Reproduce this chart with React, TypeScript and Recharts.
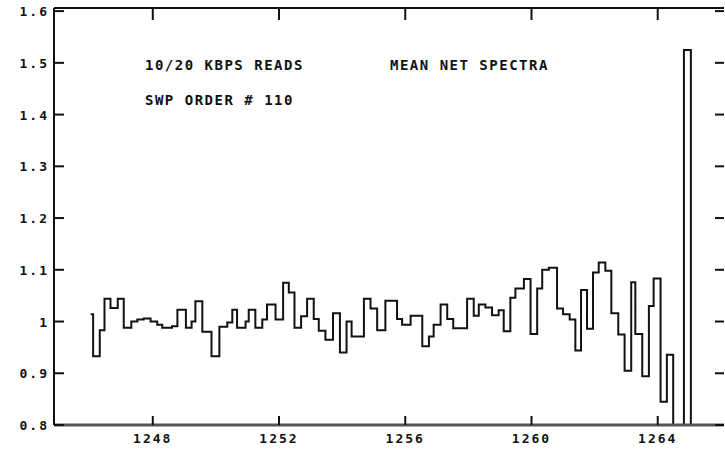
import React from 'react'
import { LineChart, Line, XAxis, YAxis } from 'recharts'

// left edge of each wavelength bin (the last entry only closes the final bin)
const binStart = [
  1246.03, 1246.11, 1246.32, 1246.47, 1246.66, 1246.89, 1247.08, 1247.32, 1247.51, 1247.71,
  1247.93, 1248.14, 1248.30, 1248.61, 1248.78, 1249.05, 1249.23, 1249.35, 1249.57, 1249.86,
  1250.11, 1250.36, 1250.52, 1250.67, 1250.94, 1251.04, 1251.25, 1251.47, 1251.62, 1251.89,
  1252.13, 1252.31, 1252.49, 1252.70, 1252.89, 1253.10, 1253.26, 1253.47, 1253.71, 1253.93,
  1254.14, 1254.30, 1254.69, 1254.90, 1255.11, 1255.37, 1255.74, 1255.90, 1256.17, 1256.54,
  1256.75, 1256.90, 1257.12, 1257.33, 1257.52, 1257.96, 1258.17, 1258.33, 1258.54, 1258.75,
  1258.96, 1259.12, 1259.33, 1259.49, 1259.76, 1259.97, 1260.18, 1260.34, 1260.55, 1260.81,
  1261.00, 1261.21, 1261.39, 1261.57, 1261.76, 1261.95, 1262.13, 1262.34, 1262.53, 1262.75,
  1262.95, 1263.16, 1263.29, 1263.51, 1263.72, 1263.87, 1264.09, 1264.29, 1264.49, 1264.83,
  1265.05,
]

const netFlux = [
  1.014, 0.933, 0.983, 1.044, 1.026, 1.044, 0.988, 1.0, 1.004, 1.006,
  1.0, 0.994, 0.988, 0.991, 1.023, 0.988, 1.0, 1.039, 0.98, 0.933,
  0.99, 0.998, 1.023, 0.988, 1.0, 1.023, 0.988, 1.004, 1.033, 1.004,
  1.075, 1.056, 0.988, 1.01, 1.044, 1.005, 0.982, 0.965, 1.016, 0.94,
  1.0, 0.971, 1.044, 1.025, 0.983, 1.04, 1.005, 0.994, 1.011, 0.952,
  0.971, 0.994, 1.033, 1.005, 0.987, 1.044, 1.011, 1.033, 1.027, 1.012,
  1.022, 0.981, 1.046, 1.064, 1.082, 0.976, 1.064, 1.1, 1.104, 1.025,
  1.014, 1.004, 0.944, 1.061, 0.986, 1.095, 1.114, 1.098, 1.016, 0.975,
  0.905, 1.076, 0.976, 0.894, 1.03, 1.083, 0.845, 0.936, 0.75, 1.525,
  0.75,
]

const xTicks = [1248, 1252, 1256, 1260, 1264]
const yTicks = [0.8, 0.9, 1, 1.1, 1.2, 1.3, 1.4, 1.5, 1.6]
const yTickLabels = ['0.8', '0.9', '1', '1.1', '1.2', '1.3', '1.4', '1.5', '1.6']
const noteLeft = ['10/20 KBPS READS', 'SWP ORDER # 110']
const noteRight = 'MEAN NET SPECTRA'

const data = binStart.map((x, i) => ({ x, v: netFlux[i] }))

const ink = '#111'
const mono = {
  fontFamily: "'DejaVu Sans Mono', 'Liberation Mono', monospace",
  fontWeight: 700,
  fontSize: 13,
  letterSpacing: 2,
}

function labelFor(v: number) {
  const i = yTicks.findIndex(t => Math.abs(t - v) < 1e-6)
  return i < 0 ? '' : yTickLabels[i]
}

function BottomTick({ x, y, payload }: any) {
  return (
    <g>
      <line x1={x} x2={x} y1={y} y2={y - 9} stroke={ink} strokeWidth={2} />
      <text x={x} y={y + 18} textAnchor="middle" fill={ink} style={mono}>{payload.value}</text>
    </g>
  )
}

function TopTick({ x, y }: any) {
  return <line x1={x} x2={x} y1={y} y2={y + 12} stroke={ink} strokeWidth={2} />
}

function LeftTick({ x, y, payload }: any) {
  return (
    <g>
      <line x1={x} x2={x + 10} y1={y} y2={y} stroke={ink} strokeWidth={2} />
      <text x={x - 5} y={y + 5} textAnchor="end" fill={ink} style={mono}>{labelFor(payload.value)}</text>
    </g>
  )
}

function RightTick({ x, y }: any) {
  return <line x1={x} x2={x - 9} y1={y} y2={y} stroke={ink} strokeWidth={2} />
}

const noteStyle: React.CSSProperties = {
  position: 'absolute',
  fontFamily: "'DejaVu Sans Mono', 'Liberation Mono', monospace",
  fontWeight: 700,
  fontSize: 14,
  letterSpacing: 1.5,
  lineHeight: '16px',
  color: ink,
  whiteSpace: 'pre',
}

export default function App() {
  const xDomain = [1244.87, 1266.1]
  const yDomain = [0.8, 1.606]
  return (
    <div style={{ position: 'absolute', left: 0, top: 0, width: 725, height: 452, background: '#fff' }}>
      <LineChart width={725} height={452} data={data} margin={{ top: 7, right: 0, bottom: 0, left: 0 }}>
        <XAxis
          xAxisId="bottom"
          dataKey="x"
          type="number"
          domain={xDomain}
          allowDataOverflow
          ticks={xTicks}
          height={27}
          tickSize={0}
          tickMargin={0}
          tickLine={false}
          axisLine={{ stroke: '#555', strokeWidth: 3 }}
          tick={<BottomTick />}
        />
        <XAxis
          xAxisId="top"
          orientation="top"
          dataKey="x"
          type="number"
          domain={xDomain}
          allowDataOverflow
          ticks={xTicks}
          height={1}
          tickSize={0}
          tickMargin={0}
          tickLine={false}
          axisLine={{ stroke: ink, strokeWidth: 2 }}
          tick={<TopTick />}
        />
        <YAxis
          yAxisId="left"
          type="number"
          domain={yDomain}
          allowDataOverflow
          ticks={yTicks}
          width={54}
          tickSize={0}
          tickMargin={0}
          tickLine={false}
          axisLine={{ stroke: ink, strokeWidth: 2 }}
          tick={<LeftTick />}
        />
        <YAxis
          yAxisId="right"
          orientation="right"
          type="number"
          domain={yDomain}
          allowDataOverflow
          ticks={yTicks}
          width={1}
          tickSize={0}
          tickMargin={0}
          tickLine={false}
          axisLine={false}
          tick={<RightTick />}
        />
        <Line
          xAxisId="bottom"
          yAxisId="left"
          dataKey="v"
          type="stepAfter"
          stroke={ink}
          strokeWidth={2}
          dot={false}
          activeDot={false}
          isAnimationActive={false}
        />
        {/* invisible twin so the top and right frame axes get drawn */}
        <Line
          xAxisId="top"
          yAxisId="right"
          dataKey="v"
          type="stepAfter"
          stroke="none"
          dot={false}
          activeDot={false}
          legendType="none"
          isAnimationActive={false}
        />
      </LineChart>
      <div style={{ ...noteStyle, left: 145, top: 57 }}>{noteLeft[0]}</div>
      <div style={{ ...noteStyle, left: 390, top: 57 }}>{noteRight}</div>
      <div style={{ ...noteStyle, left: 145, top: 92 }}>{noteLeft[1]}</div>
    </div>
  )
}
